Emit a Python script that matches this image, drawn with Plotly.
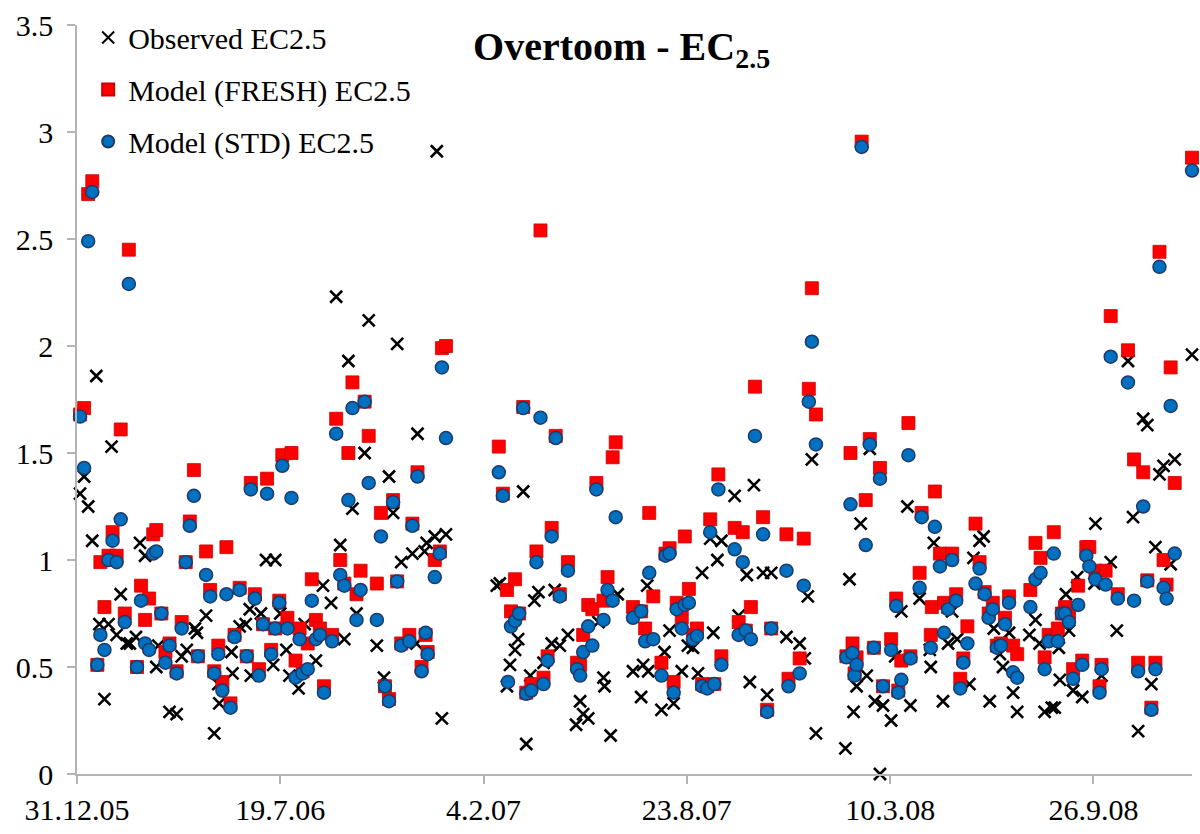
import pandas as pd
import plotly.graph_objects as go

START = "2005-12-31"

# Observed EC2.5 : days since 31.12.05 and values
obs_day = [3, 7, 11, 15, 19, 22, 27, 31, 34, 39, 43, 49, 52, 58, 62, 67, 78, 80, 91, 98,
           103, 108, 116, 118, 127, 135, 139, 140, 152, 153, 160, 166, 170, 171, 181, 186, 193, 195, 200, 206,
           209, 218, 224, 235, 242, 250, 255, 259, 263, 267, 271, 275, 283, 287, 295, 302, 307, 311, 315, 319,
           330, 334, 335, 342, 344, 352, 354, 359, 363,
           413, 416, 423, 426, 431, 434, 439, 442, 446, 450, 454, 459, 467, 470, 475, 483, 491, 495, 498, 503,
           513, 518, 519, 525, 532, 547, 555, 557, 562, 561, 575, 578, 583, 587, 595, 601, 606, 611, 615, 623,
           626, 630, 634, 647, 651, 659, 662, 666, 675, 679, 683, 698, 711, 716, 719, 723, 727, 756, 760, 764,
           767, 771, 777, 780, 785, 790, 793, 801, 805, 811, 817, 820, 829, 839, 840, 843, 852, 857, 861, 866,
           878, 882, 888, 892, 898, 902, 908, 911, 917, 921, 925, 937, 943, 947, 952, 959, 962, 966, 967, 973,
           976, 980, 984, 989, 1001, 1002, 1008, 1017, 1023, 1034, 1039, 1044, 1049, 1053, 1057, 1061, 1065, 1069,
           1076, 1080, 1097]
obs_val = [1.31, 1.39, 1.25, 1.09, 1.86, 0.70, 0.35, 0.70, 1.53, 0.65, 0.84, 0.61, 0.61, 0.64, 1.08, 1.02, 0.50, 0.60, 0.29, 0.28,
           0.55, 0.58, 0.68, 0.66, 0.74, 0.19, 0.42, 0.33, 0.57, 0.47, 0.69, 0.70, 0.77, 0.46, 0.75, 1.00, 0.51, 1.00, 0.75, 0.58,
           0.46, 0.40, 0.70, 0.53, 0.88, 0.80, 2.23, 1.07, 0.63, 1.93, 1.24, 0.75, 1.50, 2.12, 0.60, 0.45, 1.39, 1.22, 2.01, 0.99,
           1.03, 0.61, 1.59, 1.04, 1.08, 1.11, 2.91, 0.26, 1.12,
           0.88, 0.89, 0.41, 0.51, 0.58, 0.63, 1.32, 0.14, 0.46, 0.81, 0.85, 0.52, 0.61, 0.86, 0.60, 0.65, 0.23, 0.34, 0.28, 0.26,
           0.71, 0.45, 0.41, 0.18, 0.84, 0.48, 0.36, 0.51, 0.48, 0.88, 0.30, 0.57, 0.67, 0.33, 0.48, 0.60, 0.59, 0.47, 0.94, 1.10,
           0.66, 1.00, 1.09, 1.30, 0.74, 0.93, 0.43, 1.35, 0.94, 0.37, 0.94, 0.64, 0.61, 0.54, 0.83, 1.47, 0.19, 0.12, 0.91, 0.29,
           0.41, 1.17, 0.46, 1.52, 0.34, 0.00, 0.32, 0.25, 0.55, 0.76, 1.25, 0.32, 0.82, 0.58, 0.50, 1.08, 0.34, 0.61, 0.76, 0.63,
           0.42, 1.01, 1.09, 1.11, 0.34, 0.68, 0.56, 0.50, 0.66, 0.38, 0.29, 0.65, 0.72, 0.61, 0.29, 0.31, 0.31, 0.59, 0.44, 0.84,
           0.67, 0.39, 0.92, 0.36, 0.89, 1.17, 0.46, 0.99, 0.67, 1.93, 1.20, 0.20, 1.66, 1.63, 0.42, 1.06, 1.40, 1.44,
           0.98, 1.47, 1.96]

# Model runs: days since 31.12.05, FRESH and STD values (None = no marker)
model_day = [3, 7, 11, 15, 20, 23, 27, 31, 35, 39, 43, 47, 51, 59, 63, 67, 71, 75, 78, 83,
             87, 91, 98, 103, 107, 111, 115, 119, 127, 131, 135, 139, 143, 147, 151, 155, 160, 167, 171, 175,
             179, 183, 187, 191, 195, 199, 202, 207, 211, 215, 219, 222, 227, 231, 235, 239, 243, 251, 255, 259,
             263, 267, 271, 275, 279, 283, 287, 295, 299, 303, 307, 311, 315, 319, 327, 330, 335, 339, 343, 345,
             352, 357, 359, 363,
             415, 419, 423, 424, 427, 431, 435, 439, 442, 447, 452, 456, 459, 463, 467, 471, 475, 483, 492, 495,
             498, 503, 507, 511, 518, 522, 527, 530, 547, 555, 559, 563, 567, 575, 579, 583, 587, 590, 595, 598,
             602, 606, 610, 615, 620, 623, 627, 631, 634, 647, 651, 655, 658, 663, 667, 675, 679, 683, 698, 700,
             711, 715, 720, 723, 727, 757, 761, 763, 765, 767, 772, 776, 780, 784, 790, 793, 801, 806, 808, 811,
             818, 820, 829, 831, 840, 841, 844, 849, 853, 857, 861, 865, 869, 872, 876, 884, 888, 893, 897, 901,
             905, 909, 913, 917, 921, 925, 938, 943, 948, 952, 956, 961, 965, 969, 972, 976, 980, 985, 989, 993,
             996, 1002, 1006, 1008, 1012, 1017, 1024, 1034, 1040, 1044, 1049, 1053, 1057, 1061, 1065, 1069, 1072, 1076,
             1080, 1097]
fresh_val = [1.68, 1.71, 2.71, 2.77, 0.51, 0.99, 0.78, 1.02, 1.13, 1.02, 1.61, 0.75, 2.45, 0.50, 0.88, 0.72, 0.82, 1.12, 1.14, 0.75,
             0.57, 0.61, 0.48, 0.71, 0.99, 1.18, 1.42, 0.55, 1.04, 0.86, 0.48, 0.60, 0.43, 1.06, 0.33, 0.65, 0.87, 0.55, 1.36, 0.84,
             0.49, 0.70, 1.38, 0.58, 0.68, 0.81, 1.49, 0.73, 1.50, 0.53, 0.68, 0.48, 0.61, 0.91, 0.72, 0.68, 0.41, 0.65, 1.66, 1.00,
             0.89, 1.50, 1.83, 0.84, 0.95, 1.74, 1.58, 0.89, 1.22, 0.41, 0.35, 1.28, 0.90, 0.61, 0.65, 1.17, 1.41, 0.50, 0.65, 0.57,
             1.00, 1.04, 1.99, 2.00,
             1.53, 1.31, 0.86, None, 0.76, 0.91, 0.75, 1.715, 0.38, 0.42, 1.04, 2.54, 0.45, 0.55, 1.15, 1.58, 0.84, 0.99, 0.52, 0.51,
             0.65, 0.79, 0.77, 1.36, 0.81, 0.92, 1.48, 1.55, 0.78, 0.76, 0.68, 1.22, 0.83, 0.52, 1.03, 1.055, 0.43, 0.80, 0.73, 1.11,
             0.865, 0.65, 0.68, 0.42, 0.41, 1.19, 0.42, 1.40, 0.55, 1.15, 0.71, 1.13, 0.67, 0.78, 1.81, 1.20, 0.30, 0.68, 1.12, 0.445,
             0.54, 1.10, 1.80, 2.27, 1.68, 0.55, 1.50, 0.61, 0.47, 0.545, 2.955, 1.28, 1.565, 0.59, 1.43, 0.41, 0.63, 0.82, 0.39, 0.53,
             1.64, 0.55, 0.94, 1.22, 0.65, 0.78, 1.32, 1.03, 0.80, 0.78, 1.03, 0.84, 0.445, 0.54, 0.69, 1.17, 0.99, 0.85, 0.75, 0.80,
             0.60, 0.61, 0.73, 0.83, 0.60, 0.56, 0.86, 1.08, 1.01, 0.545, 0.65, 1.13, 0.68, 0.75, 0.78, 0.75, 0.49, 0.88, 0.53, 1.06,
             1.06, 0.95, 0.41, 0.51, 0.95, 2.14, 0.84, 1.98, 1.47, 0.52, 1.41, 0.905, 0.31, 0.52, 2.44, 1.00, 0.885, 1.90,
             1.36, 2.88]
std_val = [1.67, 1.43, 2.49, 2.72, 0.51, 0.65, 0.58, 1.00, 1.09, 0.99, 1.19, 0.71, 2.29, 0.50, 0.81, 0.61, 0.58, 1.03, 1.04, 0.75,
           0.52, 0.60, 0.47, 0.68, 0.99, 1.16, 1.30, 0.55, 0.93, 0.83, 0.47, 0.56, 0.39, 0.84, 0.31, 0.64, 0.86, 0.55, 1.33, 0.82,
           0.46, 0.70, 1.31, 0.56, 0.68, 0.80, 1.44, 0.68, 1.29, 0.45, 0.63, 0.47, 0.49, 0.81, 0.63, 0.65, 0.38, 0.62, 1.59, 0.93,
           0.88, 1.28, 1.71, 0.72, 0.86, 1.74, 1.36, 0.72, 1.11, 0.41, 0.34, 1.27, 0.90, 0.60, 0.62, 1.16, 1.39, 0.48, 0.66, 0.56,
           0.92, 1.03, 1.90, 1.57,
           1.41, 1.30, None, 0.43, 0.69, 0.715, 0.75, 1.71, 0.375, 0.39, 0.99, 1.665, 0.42, 0.53, 1.11, 1.57, 0.83, 0.95, 0.49, 0.46,
           0.57, 0.69, 0.60, 1.33, 0.72, 0.86, 0.81, 1.20, 0.73, 0.76, 0.62, 0.94, 0.63, 0.46, 1.02, 1.03, 0.38, 0.77, 0.68, 0.79,
           0.80, 0.63, 0.645, 0.41, 0.40, 1.13, 0.42, 1.33, 0.51, 1.05, 0.65, 0.99, 0.67, 0.63, 1.58, 1.12, 0.29, 0.68, 0.95, 0.41,
           0.47, 0.88, 1.74, 2.02, 1.54, 0.545, 1.26, 0.565, 0.46, 0.51, 2.93, 1.07, 1.54, 0.59, 1.38, 0.41, 0.58, 0.785, 0.38, 0.44,
           1.49, 0.54, 0.87, 1.20, 0.59, None, 1.155, 0.97, 0.66, 0.77, 1.00, 0.81, 0.40, 0.52, 0.61, 0.89, 0.96, 0.84, 0.73, 0.77,
           0.59, 0.60, 0.70, 0.80, 0.475, 0.45, 0.78, 0.91, 0.94, 0.49, 0.62, 1.03, 0.62, 0.75, 0.75, 0.71, 0.445, 0.79, 0.51, 1.02,
           0.97, 0.91, 0.38, 0.49, 0.885, 1.95, 0.82, 1.83, 0.81, 0.48, 1.25, 0.90, 0.30, 0.49, 2.37, 0.87, 0.82, 1.72,
           1.03, 2.82]

x_tick_dates = ["2005-12-31", "2006-07-19", "2007-02-04", "2007-08-23", "2008-03-10", "2008-09-26"]
x_tick_text = ["31.12.05", "19.7.06", "4.2.07", "23.8.07", "10.3.08", "26.9.08"]
y_tick_vals = [0, 0.5, 1, 1.5, 2, 2.5, 3, 3.5]
y_tick_text = ["0", "0.5", "1", "1.5", "2", "2.5", "3", "3.5"]

base = pd.Timestamp(START)
obs_x = [base + pd.Timedelta(days=d) for d in obs_day]
model_x = [base + pd.Timedelta(days=d) for d in model_day]

FONT = "Liberation Serif"
AXIS = "#B4B4B4"

fig = go.Figure()
fig.add_trace(go.Scatter(
    x=obs_x, y=obs_val, mode="markers", name="Observed EC2.5", legendgroup="a",
    marker=dict(symbol="x-thin", size=12, color="black", line=dict(color="black", width=2.6)),
    cliponaxis=False))
fig.add_trace(go.Scatter(
    x=model_x, y=fresh_val, mode="markers", name="Model (FRESH) EC2.5", legendgroup="b",
    marker=dict(symbol="square", size=13, color="#FF0000", line=dict(color="#D00000", width=0.8)),
    cliponaxis=False))
fig.add_trace(go.Scatter(
    x=model_x, y=std_val, mode="markers", name="Model (STD) EC2.5", legendgroup="c",
    marker=dict(symbol="circle", size=13, color="#0070C0", line=dict(color="#1F3A68", width=1.5)),
    cliponaxis=False))

fig.update_layout(
    width=1200, height=834,
    margin=dict(l=77, r=8, t=24, b=55),
    paper_bgcolor="white", plot_bgcolor="white",
    font=dict(family=FONT, size=30, color="black"),
    title=dict(text="<b>Overtoom - EC<sub>2.5</sub></b>", x=0.518, xref="container", xanchor="center",
               y=0.945, yref="container", yanchor="middle",
               font=dict(family=FONT, size=40, color="black")),
    showlegend=True,
    legend=dict(x=0.01, y=1.018, xanchor="left", yanchor="top", bgcolor="rgba(0,0,0,0)",
                font=dict(family=FONT, size=30, color="black"), tracegroupgap=10,
                itemsizing="constant"),
    xaxis=dict(type="date", range=["2005-12-31", "2009-01-01"],
               tickvals=x_tick_dates, ticktext=x_tick_text,
               ticks="outside", ticklen=8, tickcolor=AXIS, tickwidth=1.5,
               showline=True, linecolor=AXIS, linewidth=1.5,
               showgrid=False, zeroline=False,
               tickfont=dict(family=FONT, size=30, color="black")),
    yaxis=dict(range=[0, 3.5], tickvals=y_tick_vals, ticktext=y_tick_text,
               ticks="outside", ticklen=8, tickcolor=AXIS, tickwidth=1.5,
               showline=True, linecolor=AXIS, linewidth=1.5,
               showgrid=False, zeroline=False, ticklabelstandoff=8,
               tickfont=dict(family=FONT, size=30, color="black")),
)

fig.write_html("out.html")
